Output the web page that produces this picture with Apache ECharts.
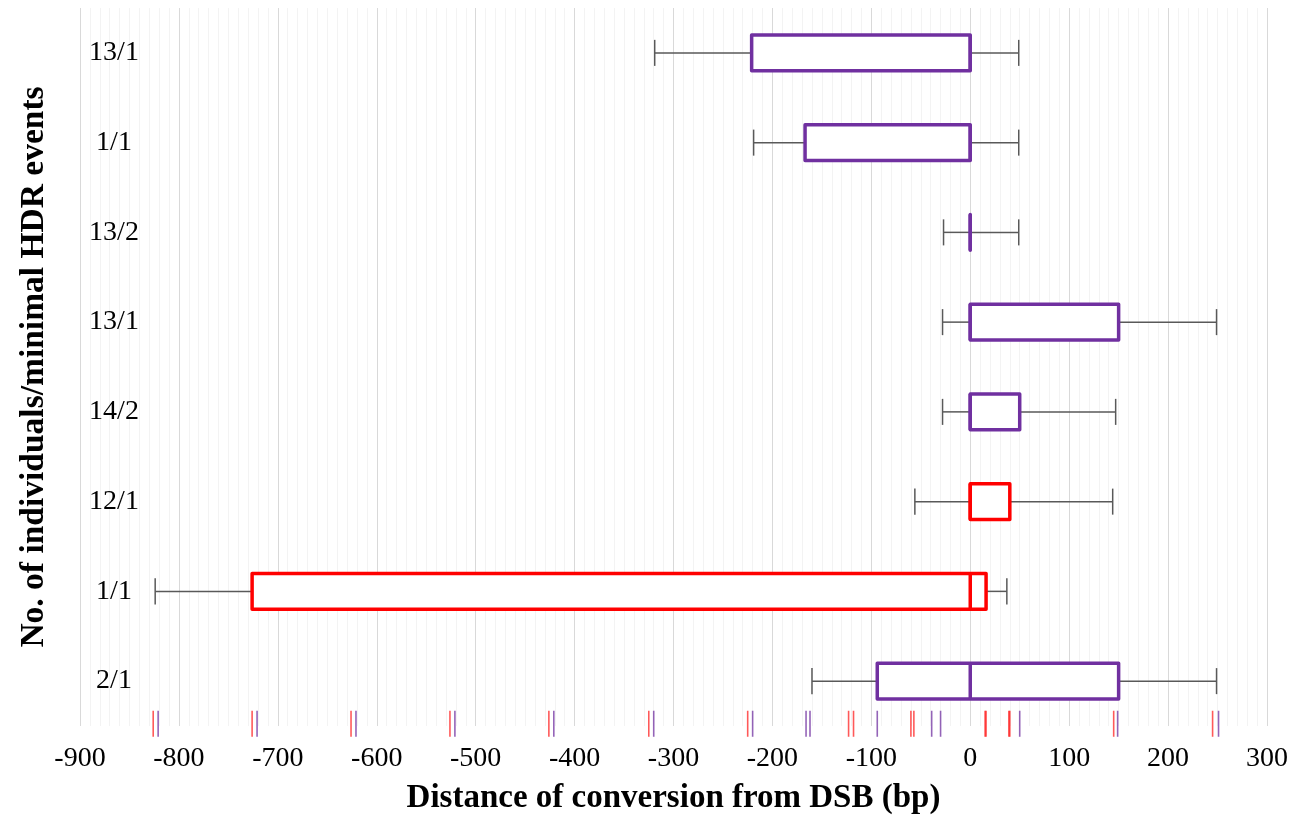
<!DOCTYPE html>
<html>
<head>
<meta charset="utf-8">
<script src="https://cdn.jsdelivr.net/npm/echarts@6/dist/echarts.min.js"></script>
<style>
html,body{margin:0;padding:0;background:#fff;}
#chart{width:1305px;height:820px;}
</style>
</head>
<body>
<div id="chart"></div>
<script>
// Categories from bottom to top
var categories = ['2/1', '1/1', '12/1', '14/2', '13/1', '13/2', '1/1', '13/1'];
var minVals = [-160, -824, -56, -28, -28, -27, -219, -319];
var q1Vals  = [-94, -726, 0, 0, 0, 0, -167, -221];
var medVals = [0, 0, 0, 0, 0, 0, 0, 0];
var q3Vals  = [150, 16, 40, 50, 150, 0, 0, 0];
var maxVals = [249, 37, 144, 147, 249, 49, 49, 49];
var boxGroup = [0, 1, 1, 0, 0, 0, 0, 0]; // 0 = purple, 1 = red
var rugRed = [-826, -726, -626, -526, -426, -325, -225, -123, -118, -60, -57, 15, 16, 39, 40, 145, 245];
var rugPurple = [-821, -721, -621, -521, -421, -320, -220, -166, -162, -94, -39, -30, 50, 149, 251];
var xTicks = [-900, -800, -700, -600, -500, -400, -300, -200, -100, 0, 100, 200, 300];

var palette = ['#7030A0', '#FF0000'];
var FONT = "'Liberation Serif', 'Times New Roman', serif";

var boxData = categories.map(function (c, i) {
  return [i, minVals[i], q1Vals[i], medVals[i], q3Vals[i], maxVals[i], boxGroup[i]];
});

function renderBox(params, api) {
  var yi = api.value(0);
  var pMin = api.coord([api.value(1), yi]);
  var pQ1 = api.coord([api.value(2), yi]);
  var pMed = api.coord([api.value(3), yi]);
  var pQ3 = api.coord([api.value(4), yi]);
  var pMax = api.coord([api.value(5), yi]);
  var color = palette[api.value(6)];
  var band = api.size([0, 1])[1];
  var bh = band * 0.4, ch = band * 0.29;
  var cy = pMed[1];
  var wStyle = {stroke: '#595959', lineWidth: 1.5};
  var children = [
    {type: 'line', shape: {x1: pMin[0], y1: cy, x2: pQ1[0], y2: cy}, style: wStyle},
    {type: 'line', shape: {x1: pMin[0], y1: cy - ch / 2, x2: pMin[0], y2: cy + ch / 2}, style: wStyle},
    {type: 'line', shape: {x1: pQ3[0], y1: cy, x2: pMax[0], y2: cy}, style: wStyle},
    {type: 'line', shape: {x1: pMax[0], y1: cy - ch / 2, x2: pMax[0], y2: cy + ch / 2}, style: wStyle},
    {type: 'rect', shape: {x: pQ1[0], y: cy - bh / 2, width: pQ3[0] - pQ1[0], height: bh},
      style: {fill: '#fff', stroke: color, lineWidth: 3.5, lineJoin: 'round'}},
    {type: 'line', shape: {x1: pMed[0], y1: cy - bh / 2, x2: pMed[0], y2: cy + bh / 2},
      style: {stroke: color, lineWidth: 3.5}}
  ];
  return {type: 'group', children: children};
}

function makeRug(colorIdx, opacity) {
  return function (params, api) {
    var p = api.coord([api.value(0), api.value(1)]);
    var band = api.size([0, 1])[1];
    return {
      type: 'line',
      shape: {x1: p[0], y1: p[1] + band * 0.33, x2: p[0], y2: p[1] + band * 0.62},
      style: {stroke: palette[colorIdx], lineWidth: 1.6, opacity: opacity}
    };
  };
}

var chart = echarts.init(document.getElementById('chart'));
chart.setOption({
  animation: false,
  backgroundColor: '#fff',
  grid: {left: 80, right: 38, top: 8, bottom: 92},
  xAxis: {
    type: 'value',
    min: xTicks[0],
    max: xTicks[xTicks.length - 1],
    interval: 100,
    axisLine: {show: false},
    axisTick: {show: false},
    axisLabel: {fontFamily: FONT, fontSize: 28, color: '#000', margin: 19},
    splitLine: {show: true, lineStyle: {color: '#D9D9D9', width: 1}},
    minorTick: {show: false, splitNumber: 10},
    minorSplitLine: {show: true, lineStyle: {color: '#F3F3F3', width: 1}},
    name: 'Distance of conversion from DSB (bp)',
    nameLocation: 'middle',
    nameGap: 56,
    nameTextStyle: {fontFamily: FONT, fontSize: 33, fontWeight: 'bold', color: '#000'}
  },
  yAxis: {
    type: 'category',
    data: categories,
    axisLine: {show: false},
    axisTick: {show: false},
    splitLine: {show: false},
    axisLabel: {inside: true, margin: 34, align: 'center', fontFamily: FONT, fontSize: 28, color: '#000'},
    name: 'No. of individuals/minimal HDR events',
    nameLocation: 'middle',
    nameGap: 29,
    nameRotate: 90,
    nameTextStyle: {fontFamily: FONT, fontSize: 33.5, fontWeight: 'bold', color: '#000'}
  },
  series: [
    {
      type: 'custom',
      data: boxData,
      encode: {x: [1, 2, 3, 4, 5], y: 0},
      renderItem: renderBox,
      clip: false,
      z: 3
    },
    {
      type: 'custom',
      data: rugRed.map(function (v) { return [v, 0]; }),
      encode: {x: 0, y: 1},
      renderItem: makeRug(1, 0.65),
      clip: false,
      z: 2
    },
    {
      type: 'custom',
      data: rugPurple.map(function (v) { return [v, 0]; }),
      encode: {x: 0, y: 1},
      renderItem: makeRug(0, 0.75),
      clip: false,
      z: 2
    }
  ]
});
</script>
</body>
</html>
